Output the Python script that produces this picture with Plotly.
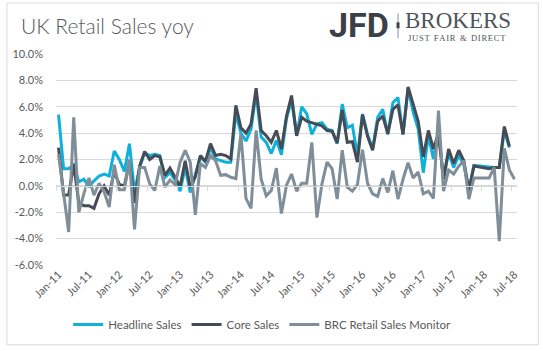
import plotly.graph_objects as go
import pandas as pd

months = list(pd.date_range("2011-01-01", periods=91, freq="MS").strftime("%b-%y"))

headline = [5.4, 1.3, 1.3, 1.6, 0.3, 0.5, 0.0, 0.35, 0.75, 0.9, 0.75, 2.65,
            2.0, 1.1, 3.2, -0.5, 1.4, 2.5, 2.3, 2.4, 2.3, 0.65, 1.0, 0.45,
            -0.4, 1.4, -0.5, 0.85, 2.2, 1.8, 2.9, 2.05, 1.9, 1.8, 1.8, 5.5,
            4.0, 3.4, 4.3, 7.0, 3.7, 3.3, 2.45, 3.45, 2.35, 5.1, 6.5, 3.8,
            6.0, 5.45, 3.9, 4.7, 4.8, 4.3, 4.2, 3.2, 6.2, 4.4, 4.6, 2.3,
            5.45, 3.9, 2.8, 5.2, 5.8, 3.9, 6.3, 6.7, 3.9, 7.4, 5.6, 4.3,
            1.0, 3.8, 2.05, 4.0, 0.6, 2.5, 1.4, 2.3, 1.6, -0.3, 1.55, 1.5,
            1.5, 1.4, 1.4, 1.4, 4.2, 2.9]

core = [2.9, -0.7, -0.7, 1.65, -1.3, -1.5, -1.5, -1.7, -0.6, 0.0, -0.7, 1.1,
        0.1, 0.0, 1.8, -1.3, 1.5, 2.6, 2.0, 2.3, 2.2, 0.8, 1.35, 0.7,
        -0.05, 1.9, -0.1, 0.7, 2.3, 1.85, 3.2, 2.3, 2.4, 2.3, 2.05, 6.1,
        4.4, 4.0, 4.7, 7.4, 4.2, 3.8, 3.3, 4.2, 2.8, 5.3, 6.85, 3.8,
        5.2, 4.9, 4.8, 4.65, 4.55, 4.2, 4.15, 3.25, 5.75, 3.3, 3.35, 1.8,
        5.4, 3.75, 2.7, 4.9, 5.3, 3.95, 5.8, 6.15, 3.9, 7.5, 6.1, 4.9,
        2.2, 4.2, 2.8, 4.0, 0.5, 2.8, 1.7, 2.7, 1.9, -0.35, 1.5, 1.45,
        1.4, 1.3, 1.4, 1.4, 4.5, 3.0]

brc = [2.4, -0.6, -3.5, 5.2, -2.0, -0.6, 0.6, -0.7, 0.2, -0.45, -1.6, 1.6,
       -0.3, -0.3, 2.0, -3.3, 1.4, 1.4, 0.15, -0.35, 1.5, -0.1, 0.45, 0.1,
       1.8, 2.7, 1.8, -2.2, 1.7, 1.4, 2.3, 1.9, 0.8, 0.85, 0.65, 0.55,
       3.95, -0.95, -1.7, 4.2, 0.5, -0.75, -0.35, 1.35, -2.1, 0.05, 0.9, -0.4,
       0.2, 0.2, 3.3, -2.4, 0.15, 1.8, 1.3, -1.0, 2.7, -0.1, -0.4, 0.1,
       2.75, 0.2, -0.6, -0.8, 0.55, -0.5, 1.15, -1.0, 0.5, 1.75, 0.6, 1.05,
       -0.6, -0.4, -0.95, 5.7, -0.4, 1.2, 0.9, 1.5, 1.9, -1.0, 0.6, 0.6,
       0.6, 0.6, 1.4, -4.2, 2.85, 1.2, 0.5]

y_ticks = [-6, -4, -2, 0, 2, 4, 6, 8, 10]
y_labels = [f"{v:.1f}%" for v in y_ticks]

FONT = "Lato"
TXT = "#595959"
GRID = "#d9d9d9"

x_h = list(range(len(headline)))
x_c = list(range(len(core)))
x_b = list(range(len(brc)))

fig = go.Figure()
fig.add_trace(go.Scatter(x=x_h, y=headline, mode="lines", name="Headline Sales",
                         line=dict(color="#0fb1dc", width=3)))
fig.add_trace(go.Scatter(x=x_c, y=core, mode="lines", name="Core Sales",
                         line=dict(color="#454c56", width=3)))
fig.add_trace(go.Scatter(x=x_b, y=brc, mode="lines", name="BRC Retail Sales Monitor",
                         line=dict(color="#7f8e99", width=3), xaxis="x2"))

n = len(months)
xr = [-0.5, n - 0.5]
label_idx = list(range(0, n, 6))
bounds = [k - 0.5 for k in range(0, n + 1, 6)]

W, H = 543, 351
ml, mr, mt, mb = 52, 26, 54, 84
pw, ph = W - ml - mr, H - mt - mb

def px(x):
    return (x - ml) / pw

def py(y):
    return (H - mb - y) / ph

sp = "\u200a"
tagline = sp.join(list("JUST")) + "  " + sp.join(list("FAIR")) + "  &amp;  " + sp.join(list("DIRECT"))

fig.update_layout(
    width=W, height=H,
    margin=dict(l=ml, r=mr, t=mt, b=mb, pad=0),
    paper_bgcolor="white", plot_bgcolor="white",
    font=dict(family=FONT, color=TXT, size=11),
    showlegend=True,
    legend=dict(orientation="h", x=px(260), xanchor="center", y=py(327), yanchor="middle",
                font=dict(size=11.5, color=TXT, family=FONT), itemwidth=30,
                bgcolor="rgba(0,0,0,0)"),
    xaxis=dict(range=xr, tickvals=label_idx, ticktext=[months[i] for i in label_idx],
               tickangle=-45, showgrid=False, zeroline=False, showline=False,
               ticks="", ticklabelstandoff=0, tickfont=dict(size=11, color=TXT, family=FONT)),
    xaxis2=dict(range=xr, overlaying="x", anchor="free", position=0.375,
                showgrid=False, zeroline=False, showline=True, linecolor=GRID, linewidth=1,
                ticks="outside", ticklen=4, tickcolor=GRID, tickwidth=1,
                tickvals=bounds, showticklabels=False),
    yaxis=dict(range=[-6, 10], tickvals=y_ticks, ticktext=y_labels,
               showgrid=True, gridcolor=GRID, gridwidth=1, zeroline=False, showline=False,
               ticks="", ticklabelstandoff=12, tickfont=dict(size=11, color=TXT, family=FONT)),
    shapes=[
        dict(type="rect", xref="paper", yref="paper",
             x0=px(2.5), x1=px(538.5), y0=py(347.5), y1=py(2.5),
             line=dict(color=GRID, width=1), fillcolor="rgba(0,0,0,0)", layer="below"),
        dict(type="line", xref="paper", yref="paper",
             x0=px(397), x1=px(397), y0=py(13), y1=py(38),
             line=dict(color="#8a8f96", width=1)),
        dict(type="rect", xref="paper", yref="paper",
             x0=px(395.5), x1=px(398.5), y0=py(28), y1=py(22),
             line=dict(width=0), fillcolor="#3f444b"),
    ],
    annotations=[
        dict(text="UK Retail Sales yoy", xref="paper", yref="paper",
             x=px(15), y=py(25), xanchor="left", yanchor="middle", showarrow=False,
             font=dict(size=21, color=TXT, family=FONT, weight=300)),
        dict(text="<b>JFD</b>", xref="paper", yref="paper",
             x=px(390), y=py(25), xanchor="right", yanchor="middle", showarrow=False,
             font=dict(size=34, color="#3b4048", family="Roboto", weight=900)),
        dict(text="BROKERS", xref="paper", yref="paper",
             x=px(402), y=py(20), xanchor="left", yanchor="middle", showarrow=False,
             font=dict(size=23, color="#50555d", family="Liberation Serif")),
        dict(text=tagline, xref="paper", yref="paper",
             x=px(405), y=py(37.5), xanchor="left", yanchor="middle", showarrow=False,
             font=dict(size=8.6, color="#50555d", family="Liberation Serif")),
    ],
)

fig.write_html("out.html")
